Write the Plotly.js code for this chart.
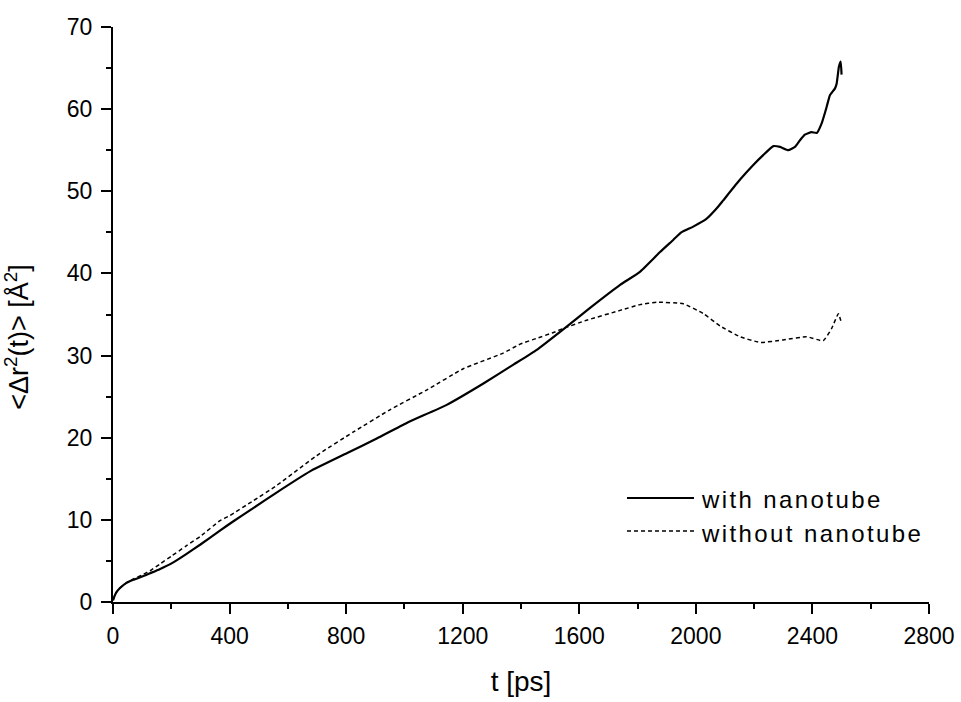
<!DOCTYPE html>
<html>
<head>
<meta charset="utf-8">
<script src="https://cdn.plot.ly/plotly-3.0.1.min.js"></script>
<style>
html, body { margin:0; padding:0; background:#fff; }
#chart { width:961px; height:702px; }
.annotation-text { letter-spacing: 2.4px; }
</style>
</head>
<body>
<div id="chart"></div>
<script>
// Time axis (ps) and MSD values (Å^2)
const tWith = [0, 5, 12, 24, 45, 70, 100, 127, 160, 201, 250, 300, 367, 412, 480, 556, 676, 802, 905, 1008, 1145, 1271, 1374, 1454, 1545, 1637, 1740, 1808, 1877, 1923, 1950, 1991, 2035, 2071, 2094, 2151, 2197, 2231, 2266, 2289, 2317, 2340, 2357, 2374, 2397, 2415, 2432, 2449, 2460, 2477, 2483, 2491, 2497, 2500];
const msdWith = [0.2, 0.7, 1.2, 1.7, 2.3, 2.7, 3.1, 3.5, 4.0, 4.7, 5.8, 7.0, 8.7, 9.8, 11.4, 13.2, 15.9, 18.1, 19.9, 21.8, 24.0, 26.6, 28.9, 30.7, 33.2, 35.8, 38.6, 40.2, 42.6, 44.1, 45.0, 45.7, 46.6, 47.9, 48.9, 51.4, 53.2, 54.4, 55.5, 55.4, 55.0, 55.4, 56.2, 56.9, 57.2, 57.1, 58.3, 60.3, 61.7, 62.5, 63.1, 65.2, 65.8, 64.2];

const tWithout = [0, 5, 12, 24, 45, 70, 100, 127, 160, 201, 250, 300, 367, 400, 480, 562, 710, 825, 950, 1076, 1202, 1339, 1397, 1454, 1511, 1545, 1625, 1740, 1808, 1866, 1957, 2026, 2083, 2151, 2220, 2300, 2380, 2437, 2466, 2489, 2500];
const msdWithout = [0.2, 0.7, 1.2, 1.7, 2.3, 2.8, 3.3, 3.8, 4.6, 5.6, 6.8, 8.0, 9.9, 10.5, 12.3, 14.2, 18.1, 20.7, 23.4, 25.8, 28.4, 30.3, 31.4, 32.1, 32.8, 33.3, 34.3, 35.5, 36.2, 36.5, 36.3, 35.1, 33.6, 32.3, 31.6, 31.9, 32.3, 31.8, 33.3, 35.1, 33.9];

const seriesNames = ['with nanotube', 'without nanotube'];
const xTicks = [0, 400, 800, 1200, 1600, 2000, 2400, 2800];
const yTicks = [0, 10, 20, 30, 40, 50, 60, 70];

const FONT = 'Liberation Sans, Arial, Helvetica, sans-serif';

const traces = [
  { x: tWith, y: msdWith, name: seriesNames[0], type: 'scatter', mode: 'lines',
    line: { color: '#000', width: 2.2, shape: 'spline', smoothing: 0.4 } },
  { x: tWithout, y: msdWithout, name: seriesNames[1], type: 'scatter', mode: 'lines',
    line: { color: '#000', width: 1.5, dash: '4px,3px', shape: 'spline', smoothing: 0.4 } }
];

// custom legend (paper coordinates)
const px2x = p => (p - 113) / 816;
const px2y = p => (602 - p) / 575;

const NB = '\u00A0\u00A0\u00A0\u00A0\u00A0\u00A0';

const layout = {
  width: 961, height: 702,
  margin: { l: 113, r: 32, t: 27, b: 100 },
  paper_bgcolor: '#fff', plot_bgcolor: '#fff',
  showlegend: false,
  font: { family: FONT, color: '#000' },
  xaxis: {
    range: [0, 2800], tickvals: xTicks, ticktext: xTicks.map(String),
    ticks: 'outside', ticklen: 10, tickwidth: 2, tickcolor: '#000',
    showline: true, linewidth: 2, linecolor: '#000',
    showgrid: false, zeroline: false, ticklabelstandoff: 2,
    tickfont: { size: 23, family: FONT, color: '#000' },
    minor: { dtick: 200, tick0: 0, ticks: 'outside', ticklen: 5, tickwidth: 2, tickcolor: '#000', showgrid: false },
    title: { text: 't [ps]', font: { size: 28, family: FONT, color: '#000' }, standoff: 24 }
  },
  yaxis: {
    range: [0, 70], tickvals: yTicks, ticktext: yTicks.map(String),
    ticks: 'outside', ticklen: 10, tickwidth: 2, tickcolor: '#000',
    showline: true, linewidth: 2, linecolor: '#000',
    showgrid: false, zeroline: false, ticklabelstandoff: 4,
    tickfont: { size: 23, family: FONT, color: '#000' },
    minor: { dtick: 5, tick0: 0, ticks: 'outside', ticklen: 5, tickwidth: 2, tickcolor: '#000', showgrid: false },
    title: { text: '<\u0394r<sup>2</sup>(t)> [\u00C5<sup>2</sup>]<span>' + NB + '</span>', font: { size: 27, family: FONT, color: '#000' }, standoff: 30 }
  },
  shapes: [
    { type: 'line', xref: 'paper', yref: 'paper', x0: px2x(627), x1: px2x(694), y0: px2y(498), y1: px2y(498),
      line: { color: '#000', width: 2.2 } },
    { type: 'line', xref: 'paper', yref: 'paper', x0: px2x(627), x1: px2x(694), y0: px2y(531), y1: px2y(531),
      line: { color: '#000', width: 1.5, dash: '4px,3px' } }
  ],
  annotations: [
    { xref: 'paper', yref: 'paper', x: px2x(699), y: px2y(499), xanchor: 'left', yanchor: 'middle',
      text: seriesNames[0], showarrow: false, font: { size: 24, family: FONT, color: '#000' } },
    { xref: 'paper', yref: 'paper', x: px2x(699), y: px2y(533), xanchor: 'left', yanchor: 'middle',
      text: seriesNames[1], showarrow: false, font: { size: 24, family: FONT, color: '#000' } }
  ]
};

Plotly.newPlot('chart', traces, layout, { staticPlot: true, displayModeBar: false });
</script>
</body>
</html>
